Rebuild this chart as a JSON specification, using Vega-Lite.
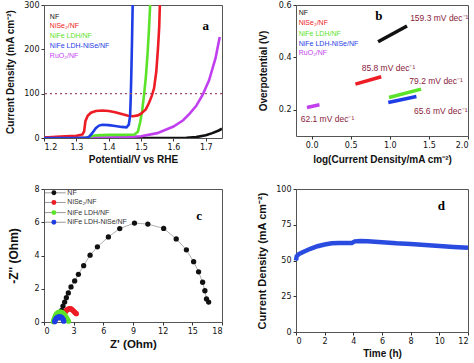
{
  "$schema": "https://vega.github.io/schema/vega-lite/v6.json",
  "padding": {"left": 5, "top": 0, "right": 0, "bottom": 0},
  "background": "white",
  "columns": 2,
  "spacing": {"row": 51, "column": 74},
  "bounds": "flush",
  "datasets": {
    "a": [
      {"s": "NF", "p": 1.2, "j": 0}, {"s": "NF", "p": 1.6, "j": 0}, {"s": "NF", "p": 1.64, "j": 0.5}, {"s": "NF", "p": 1.67, "j": 2}, {"s": "NF", "p": 1.7, "j": 6}, {"s": "NF", "p": 1.72, "j": 11}, {"s": "NF", "p": 1.74, "j": 17}, {"s": "NF", "p": 1.75, "j": 21},
      {"s": "RuO2/NF", "p": 1.2, "j": 0}, {"s": "RuO2/NF", "p": 1.3, "j": 0.3}, {"s": "RuO2/NF", "p": 1.4, "j": 1}, {"s": "RuO2/NF", "p": 1.45, "j": 2}, {"s": "RuO2/NF", "p": 1.5, "j": 4}, {"s": "RuO2/NF", "p": 1.55, "j": 11}, {"s": "RuO2/NF", "p": 1.6, "j": 26}, {"s": "RuO2/NF", "p": 1.63, "j": 40}, {"s": "RuO2/NF", "p": 1.65, "j": 55}, {"s": "RuO2/NF", "p": 1.67, "j": 72}, {"s": "RuO2/NF", "p": 1.69, "j": 97}, {"s": "RuO2/NF", "p": 1.71, "j": 130}, {"s": "RuO2/NF", "p": 1.73, "j": 180}, {"s": "RuO2/NF", "p": 1.743, "j": 228},
      {"s": "NiFe LDH/NF", "p": 1.2, "j": 0}, {"s": "NiFe LDH/NF", "p": 1.33, "j": 0}, {"s": "NiFe LDH/NF", "p": 1.34, "j": 3}, {"s": "NiFe LDH/NF", "p": 1.36, "j": 6}, {"s": "NiFe LDH/NF", "p": 1.4, "j": 7}, {"s": "NiFe LDH/NF", "p": 1.45, "j": 7}, {"s": "NiFe LDH/NF", "p": 1.48, "j": 8}, {"s": "NiFe LDH/NF", "p": 1.49, "j": 14}, {"s": "NiFe LDH/NF", "p": 1.497, "j": 35}, {"s": "NiFe LDH/NF", "p": 1.503, "j": 60}, {"s": "NiFe LDH/NF", "p": 1.509, "j": 96}, {"s": "NiFe LDH/NF", "p": 1.515, "j": 140}, {"s": "NiFe LDH/NF", "p": 1.52, "j": 190}, {"s": "NiFe LDH/NF", "p": 1.524, "j": 240}, {"s": "NiFe LDH/NF", "p": 1.528, "j": 300},
      {"s": "NiSe2/NF", "p": 1.2, "j": 1}, {"s": "NiSe2/NF", "p": 1.25, "j": 3}, {"s": "NiSe2/NF", "p": 1.3, "j": 5}, {"s": "NiSe2/NF", "p": 1.319, "j": 8}, {"s": "NiSe2/NF", "p": 1.324, "j": 15}, {"s": "NiSe2/NF", "p": 1.328, "j": 38}, {"s": "NiSe2/NF", "p": 1.335, "j": 50}, {"s": "NiSe2/NF", "p": 1.345, "j": 57}, {"s": "NiSe2/NF", "p": 1.36, "j": 61}, {"s": "NiSe2/NF", "p": 1.38, "j": 62}, {"s": "NiSe2/NF", "p": 1.4, "j": 61}, {"s": "NiSe2/NF", "p": 1.42, "j": 58}, {"s": "NiSe2/NF", "p": 1.44, "j": 54}, {"s": "NiSe2/NF", "p": 1.46, "j": 50}, {"s": "NiSe2/NF", "p": 1.475, "j": 49}, {"s": "NiSe2/NF", "p": 1.49, "j": 51}, {"s": "NiSe2/NF", "p": 1.5, "j": 55}, {"s": "NiSe2/NF", "p": 1.515, "j": 65}, {"s": "NiSe2/NF", "p": 1.525, "j": 80}, {"s": "NiSe2/NF", "p": 1.533, "j": 95}, {"s": "NiSe2/NF", "p": 1.54, "j": 112}, {"s": "NiSe2/NF", "p": 1.547, "j": 150}, {"s": "NiSe2/NF", "p": 1.552, "j": 200}, {"s": "NiSe2/NF", "p": 1.556, "j": 250}, {"s": "NiSe2/NF", "p": 1.558, "j": 300},
      {"s": "NiFe LDH-NiSe/NF", "p": 1.2, "j": 0}, {"s": "NiFe LDH-NiSe/NF", "p": 1.33, "j": 0}, {"s": "NiFe LDH-NiSe/NF", "p": 1.34, "j": 3}, {"s": "NiFe LDH-NiSe/NF", "p": 1.35, "j": 12}, {"s": "NiFe LDH-NiSe/NF", "p": 1.36, "j": 22}, {"s": "NiFe LDH-NiSe/NF", "p": 1.37, "j": 28}, {"s": "NiFe LDH-NiSe/NF", "p": 1.38, "j": 30}, {"s": "NiFe LDH-NiSe/NF", "p": 1.4, "j": 29}, {"s": "NiFe LDH-NiSe/NF", "p": 1.42, "j": 27}, {"s": "NiFe LDH-NiSe/NF", "p": 1.44, "j": 25}, {"s": "NiFe LDH-NiSe/NF", "p": 1.455, "j": 24}, {"s": "NiFe LDH-NiSe/NF", "p": 1.462, "j": 30}, {"s": "NiFe LDH-NiSe/NF", "p": 1.466, "j": 50}, {"s": "NiFe LDH-NiSe/NF", "p": 1.468, "j": 90}, {"s": "NiFe LDH-NiSe/NF", "p": 1.47, "j": 150}, {"s": "NiFe LDH-NiSe/NF", "p": 1.472, "j": 220}, {"s": "NiFe LDH-NiSe/NF", "p": 1.474, "j": 300}
    ],
    "aleg": [
      {"s": "NF", "label": "NF", "y": 273},
      {"s": "NiSe2/NF", "label": "NiSe₂/NF", "y": 252},
      {"s": "NiFe LDH/NF", "label": "NiFe LDH/NF", "y": 229},
      {"s": "NiFe LDH-NiSe/NF", "label": "NiFe LDH-NiSe/NF", "y": 207},
      {"s": "RuO2/NF", "label": "RuO₂/NF", "y": 185}
    ],
    "b": [
      {"s": "NF", "x": 0.85, "y": 0.46}, {"s": "NF", "x": 1.22, "y": 0.52},
      {"s": "NiSe2/NF", "x": 0.56, "y": 0.298}, {"s": "NiSe2/NF", "x": 0.89, "y": 0.326},
      {"s": "NiFe LDH/NF", "x": 0.99, "y": 0.247}, {"s": "NiFe LDH/NF", "x": 1.4, "y": 0.279},
      {"s": "NiFe LDH-NiSe/NF", "x": 0.98, "y": 0.228}, {"s": "NiFe LDH-NiSe/NF", "x": 1.34, "y": 0.251},
      {"s": "RuO2/NF", "x": -0.06, "y": 0.209}, {"s": "RuO2/NF", "x": 0.1, "y": 0.219}
    ],
    "bleg": [
      {"s": "NF", "label": "NF", "y": 0.568},
      {"s": "NiSe2/NF", "label": "NiSe₂/NF", "y": 0.53},
      {"s": "NiFe LDH/NF", "label": "NiFe LDH/NF", "y": 0.491},
      {"s": "NiFe LDH-NiSe/NF", "label": "NiFe LDH-NiSe/NF", "y": 0.453},
      {"s": "RuO2/NF", "label": "RuO₂/NF", "y": 0.416}
    ],
    "bann": [
      {"t": "159.3 mV dec⁻¹", "x": 1.26, "y": 0.549},
      {"t": "85.8 mV dec⁻¹", "x": 0.64, "y": 0.361},
      {"t": "79.2 mV dec⁻¹", "x": 1.25, "y": 0.31},
      {"t": "65.6 mV dec⁻¹", "x": 1.31, "y": 0.196},
      {"t": "62.1 mV dec⁻¹", "x": -0.14, "y": 0.165}
    ],
    "c": [
      {"s": "NF", "x": 1.55, "y": 0.25}, {"s": "NF", "x": 1.65, "y": 0.5}, {"s": "NF", "x": 1.79, "y": 0.7}, {"s": "NF", "x": 1.92, "y": 0.96}, {"s": "NF", "x": 2.09, "y": 1.2}, {"s": "NF", "x": 2.26, "y": 1.46}, {"s": "NF", "x": 2.46, "y": 1.75}, {"s": "NF", "x": 2.73, "y": 2.11}, {"s": "NF", "x": 3.1, "y": 2.47}, {"s": "NF", "x": 3.48, "y": 2.87}, {"s": "NF", "x": 4.01, "y": 3.39}, {"s": "NF", "x": 4.66, "y": 4.02}, {"s": "NF", "x": 5.4, "y": 4.52}, {"s": "NF", "x": 6.51, "y": 5.12}, {"s": "NF", "x": 7.66, "y": 5.62}, {"s": "NF", "x": 9.15, "y": 5.95}, {"s": "NF", "x": 10.5, "y": 5.89}, {"s": "NF", "x": 12.1, "y": 5.63}, {"s": "NF", "x": 13.37, "y": 5.0}, {"s": "NF", "x": 14.4, "y": 4.34}, {"s": "NF", "x": 15.13, "y": 3.63}, {"s": "NF", "x": 15.63, "y": 3.02}, {"s": "NF", "x": 16.04, "y": 2.39}, {"s": "NF", "x": 16.27, "y": 1.88}, {"s": "NF", "x": 16.43, "y": 1.39}, {"s": "NF", "x": 16.65, "y": 1.2},
      {"s": "NiSe2/NF", "x": 1.95, "y": 0.25}, {"s": "NiSe2/NF", "x": 2.0, "y": 0.38}, {"s": "NiSe2/NF", "x": 2.07, "y": 0.5}, {"s": "NiSe2/NF", "x": 2.15, "y": 0.6}, {"s": "NiSe2/NF", "x": 2.24, "y": 0.68}, {"s": "NiSe2/NF", "x": 2.34, "y": 0.74}, {"s": "NiSe2/NF", "x": 2.45, "y": 0.78}, {"s": "NiSe2/NF", "x": 2.56, "y": 0.8}, {"s": "NiSe2/NF", "x": 2.67, "y": 0.8}, {"s": "NiSe2/NF", "x": 2.78, "y": 0.77}, {"s": "NiSe2/NF", "x": 2.89, "y": 0.72}, {"s": "NiSe2/NF", "x": 2.99, "y": 0.66}, {"s": "NiSe2/NF", "x": 3.09, "y": 0.6}, {"s": "NiSe2/NF", "x": 3.18, "y": 0.55}, {"s": "NiSe2/NF", "x": 3.27, "y": 0.5},
      {"s": "NiFe LDH/NF", "x": 0.95, "y": 0.02}, {"s": "NiFe LDH/NF", "x": 1.0, "y": 0.15}, {"s": "NiFe LDH/NF", "x": 1.08, "y": 0.28}, {"s": "NiFe LDH/NF", "x": 1.17, "y": 0.39}, {"s": "NiFe LDH/NF", "x": 1.27, "y": 0.48}, {"s": "NiFe LDH/NF", "x": 1.38, "y": 0.55}, {"s": "NiFe LDH/NF", "x": 1.5, "y": 0.59}, {"s": "NiFe LDH/NF", "x": 1.62, "y": 0.6}, {"s": "NiFe LDH/NF", "x": 1.75, "y": 0.59}, {"s": "NiFe LDH/NF", "x": 1.88, "y": 0.55}, {"s": "NiFe LDH/NF", "x": 2.0, "y": 0.48}, {"s": "NiFe LDH/NF", "x": 2.12, "y": 0.39}, {"s": "NiFe LDH/NF", "x": 2.22, "y": 0.3}, {"s": "NiFe LDH/NF", "x": 2.32, "y": 0.2}, {"s": "NiFe LDH/NF", "x": 2.4, "y": 0.12}, {"s": "NiFe LDH/NF", "x": 2.47, "y": 0.05},
      {"s": "NiFe LDH-NiSe/NF", "x": 1.08, "y": 0.02}, {"s": "NiFe LDH-NiSe/NF", "x": 1.12, "y": 0.1}, {"s": "NiFe LDH-NiSe/NF", "x": 1.18, "y": 0.17}, {"s": "NiFe LDH-NiSe/NF", "x": 1.26, "y": 0.23}, {"s": "NiFe LDH-NiSe/NF", "x": 1.35, "y": 0.27}, {"s": "NiFe LDH-NiSe/NF", "x": 1.45, "y": 0.3}, {"s": "NiFe LDH-NiSe/NF", "x": 1.55, "y": 0.31}, {"s": "NiFe LDH-NiSe/NF", "x": 1.65, "y": 0.31}, {"s": "NiFe LDH-NiSe/NF", "x": 1.75, "y": 0.29}, {"s": "NiFe LDH-NiSe/NF", "x": 1.83, "y": 0.25}, {"s": "NiFe LDH-NiSe/NF", "x": 1.9, "y": 0.19}, {"s": "NiFe LDH-NiSe/NF", "x": 1.96, "y": 0.12}, {"s": "NiFe LDH-NiSe/NF", "x": 2.0, "y": 0.05}
    ],
    "clegline": [
      {"s": "NF", "x": 0.1, "x2": 2.2, "y": 7.77},
      {"s": "NiSe2/NF", "x": 0.1, "x2": 2.2, "y": 7.19},
      {"s": "NiFe LDH/NF", "x": 0.1, "x2": 2.2, "y": 6.58},
      {"s": "NiFe LDH-NiSe/NF", "x": 0.1, "x2": 2.2, "y": 6.0}
    ],
    "clegdot": [
      {"s": "NF", "x": 1.0, "y": 7.77},
      {"s": "NiSe2/NF", "x": 1.0, "y": 7.19},
      {"s": "NiFe LDH/NF", "x": 1.0, "y": 6.58},
      {"s": "NiFe LDH-NiSe/NF", "x": 1.0, "y": 6.0}
    ],
    "clegtxt": [
      {"label": "NF", "x": 2.36, "y": 7.77},
      {"label": "NiSe₂/NF", "x": 2.36, "y": 7.19},
      {"label": "NiFe LDH/NF", "x": 2.36, "y": 6.58},
      {"label": "NiFe LDH-NiSe/NF", "x": 2.36, "y": 6.0}
    ],
    "d": [
      {"x": 0, "y": 50}, {"x": 0.05, "y": 53}, {"x": 0.2, "y": 54.5}, {"x": 0.5, "y": 56}, {"x": 1.0, "y": 58.2}, {"x": 1.5, "y": 60}, {"x": 2.0, "y": 61.2}, {"x": 2.5, "y": 62}, {"x": 3.0, "y": 62.2}, {"x": 3.5, "y": 62.2}, {"x": 3.9, "y": 62.3}, {"x": 4.1, "y": 63.4}, {"x": 4.5, "y": 63.7}, {"x": 5.0, "y": 63.4}, {"x": 6, "y": 62.8}, {"x": 7, "y": 62}, {"x": 8, "y": 61.5}, {"x": 9, "y": 60.8}, {"x": 10, "y": 60.2}, {"x": 11, "y": 59.5}, {"x": 12, "y": 58.9}
    ]
  },
  "concat": [
    {
      "width": 178, "height": 133,
      "layer": [
        {"data": {"name": "a"}, "mark": {"type": "line", "strokeWidth": 2.6, "clip": true},
         "encoding": {
           "x": {"field": "p", "type": "quantitative", "scale": {"domain": [1.2, 1.75], "nice": false}, "axis": {"values": [1.2, 1.3, 1.4, 1.5, 1.6, 1.7], "format": ".1f", "titlePadding": 3, "labelOverlap": false, "labelBound": false}, "title": "Potential/V vs RHE"},
           "y": {"field": "j", "type": "quantitative", "scale": {"domain": [0, 300], "nice": false}, "axis": {"values": [0, 100, 200, 300], "titlePadding": 8, "labelOverlap": false, "labelBound": false}, "title": "Current Density (mA cm⁻²)"},
           "color": {"field": "s", "type": "nominal", "scale": {"domain": ["NF", "NiSe2/NF", "NiFe LDH/NF", "NiFe LDH-NiSe/NF", "RuO2/NF"], "range": ["#111111", "#ee1c25", "#5be32a", "#1f3de6", "#c23ff0"]}, "legend": null}
         }},
        {"data": {"values": [{}]}, "mark": {"type": "rule", "strokeDash": [2, 3], "color": "#a0506a", "strokeWidth": 1.2},
         "encoding": {"y": {"datum": 100, "type": "quantitative", "scale": {"domain": [0, 300], "nice": false}, "axis": {"values": [0, 100, 200, 300], "titlePadding": 8, "labelOverlap": false, "labelBound": false}, "title": "Current Density (mA cm⁻²)"}}},
        {"data": {"name": "aleg"}, "mark": {"type": "text", "align": "left", "baseline": "middle", "font": "Liberation Sans", "fontSize": 7},
         "encoding": {
           "x": {"datum": 1.218, "type": "quantitative", "scale": {"domain": [1.2, 1.75], "nice": false}, "axis": {"values": [1.2, 1.3, 1.4, 1.5, 1.6, 1.7], "format": ".1f", "titlePadding": 3, "labelOverlap": false, "labelBound": false}, "title": "Potential/V vs RHE"},
           "y": {"field": "y", "type": "quantitative", "scale": {"domain": [0, 300], "nice": false}, "axis": {"values": [0, 100, 200, 300], "titlePadding": 8, "labelOverlap": false, "labelBound": false}, "title": "Current Density (mA cm⁻²)"},
           "text": {"field": "label"},
           "color": {"field": "s", "type": "nominal", "scale": {"domain": ["NF", "NiSe2/NF", "NiFe LDH/NF", "NiFe LDH-NiSe/NF", "RuO2/NF"], "range": ["#111111", "#ee1c25", "#5be32a", "#1f3de6", "#c23ff0"]}, "legend": null}}},
        {"data": {"values": [{"t": "a", "x": 1.7, "y": 253}]}, "mark": {"type": "text", "font": "Liberation Serif", "fontWeight": "bold", "fontSize": 13, "baseline": "middle"},
         "encoding": {
           "x": {"field": "x", "type": "quantitative", "scale": {"domain": [1.2, 1.75], "nice": false}, "axis": {"values": [1.2, 1.3, 1.4, 1.5, 1.6, 1.7], "format": ".1f", "titlePadding": 3, "labelOverlap": false, "labelBound": false}, "title": "Potential/V vs RHE"},
           "y": {"field": "y", "type": "quantitative", "scale": {"domain": [0, 300], "nice": false}, "axis": {"values": [0, 100, 200, 300], "titlePadding": 8, "labelOverlap": false, "labelBound": false}, "title": "Current Density (mA cm⁻²)"},
           "text": {"field": "t"}}}
      ]
    },
    {
      "width": 172, "height": 131,
      "layer": [
        {"data": {"name": "b"}, "mark": {"type": "line", "strokeWidth": 3.5},
         "encoding": {
           "x": {"field": "x", "type": "quantitative", "scale": {"domain": [-0.2, 2.0], "nice": false}, "axis": {"values": [0, 0.5, 1, 1.5, 2], "format": ".1f", "titlePadding": 5, "labelOverlap": false, "labelBound": false}, "title": "log(Current Density/mA cm⁻²)"},
           "y": {"field": "y", "type": "quantitative", "scale": {"domain": [0.1, 0.6], "nice": false}, "axis": {"values": [0.2, 0.4, 0.6], "format": ".1f", "titlePadding": 10, "labelOverlap": false, "labelBound": false}, "title": "Overpotential (V)"},
           "color": {"field": "s", "type": "nominal", "scale": {"domain": ["NF", "NiSe2/NF", "NiFe LDH/NF", "NiFe LDH-NiSe/NF", "RuO2/NF"], "range": ["#111111", "#ee1c25", "#5be32a", "#1f3de6", "#c23ff0"]}, "legend": null}
         }},
        {"data": {"name": "bleg"}, "mark": {"type": "text", "align": "left", "baseline": "middle", "font": "Liberation Sans", "fontSize": 7},
         "encoding": {
           "x": {"datum": -0.165, "type": "quantitative", "scale": {"domain": [-0.2, 2.0], "nice": false}, "axis": {"values": [0, 0.5, 1, 1.5, 2], "format": ".1f", "titlePadding": 5, "labelOverlap": false, "labelBound": false}, "title": "log(Current Density/mA cm⁻²)"},
           "y": {"field": "y", "type": "quantitative", "scale": {"domain": [0.1, 0.6], "nice": false}, "axis": {"values": [0.2, 0.4, 0.6], "format": ".1f", "titlePadding": 10, "labelOverlap": false, "labelBound": false}, "title": "Overpotential (V)"},
           "text": {"field": "label"},
           "color": {"field": "s", "type": "nominal", "scale": {"domain": ["NF", "NiSe2/NF", "NiFe LDH/NF", "NiFe LDH-NiSe/NF", "RuO2/NF"], "range": ["#111111", "#ee1c25", "#5be32a", "#1f3de6", "#c23ff0"]}, "legend": null}}},
        {"data": {"name": "bann"}, "mark": {"type": "text", "align": "left", "baseline": "middle", "font": "Liberation Sans", "fontSize": 8.5, "color": "#8b1c3c"},
         "encoding": {
           "x": {"field": "x", "type": "quantitative", "scale": {"domain": [-0.2, 2.0], "nice": false}, "axis": {"values": [0, 0.5, 1, 1.5, 2], "format": ".1f", "titlePadding": 5, "labelOverlap": false, "labelBound": false}, "title": "log(Current Density/mA cm⁻²)"},
           "y": {"field": "y", "type": "quantitative", "scale": {"domain": [0.1, 0.6], "nice": false}, "axis": {"values": [0.2, 0.4, 0.6], "format": ".1f", "titlePadding": 10, "labelOverlap": false, "labelBound": false}, "title": "Overpotential (V)"},
           "text": {"field": "t"}}},
        {"data": {"values": [{"t": "b", "x": 0.86, "y": 0.558}]}, "mark": {"type": "text", "font": "Liberation Serif", "fontWeight": "bold", "fontSize": 13, "baseline": "middle"},
         "encoding": {
           "x": {"field": "x", "type": "quantitative", "scale": {"domain": [-0.2, 2.0], "nice": false}, "axis": {"values": [0, 0.5, 1, 1.5, 2], "format": ".1f", "titlePadding": 5, "labelOverlap": false, "labelBound": false}, "title": "log(Current Density/mA cm⁻²)"},
           "y": {"field": "y", "type": "quantitative", "scale": {"domain": [0.1, 0.6], "nice": false}, "axis": {"values": [0.2, 0.4, 0.6], "format": ".1f", "titlePadding": 10, "labelOverlap": false, "labelBound": false}, "title": "Overpotential (V)"},
           "text": {"field": "t"}}}
      ]
    },
    {
      "width": 178, "height": 133,
      "encoding": {
        "x": {"field": "x", "type": "quantitative", "scale": {"domain": [0, 18], "nice": false}, "axis": {"values": [0, 3, 6, 9, 12, 15, 18], "titlePadding": 3, "titleFontSize": 11.5, "labelOverlap": false, "labelBound": false}, "title": "Z' (Ohm)"},
        "y": {"field": "y", "type": "quantitative", "scale": {"domain": [0, 8], "nice": false}, "axis": {"values": [0, 2, 4, 6, 8], "titlePadding": 13, "titleFontSize": 12, "labelOverlap": false, "labelBound": false}, "title": "-Z'' (Ohm)"}
      },
      "layer": [
        {"data": {"name": "c"}, "transform": [{"filter": "datum.s === 'NF'"}], "mark": {"type": "line", "strokeWidth": 0.8, "color": "#999999"}},
        {"data": {"name": "c"}, "transform": [{"filter": "datum.s !== 'NF'"}], "mark": {"type": "line", "strokeWidth": 3.2},
         "encoding": {
           "color": {"field": "s", "type": "nominal", "scale": {"domain": ["NF", "NiSe2/NF", "NiFe LDH/NF", "NiFe LDH-NiSe/NF", "RuO2/NF"], "range": ["#111111", "#ee1c25", "#5be32a", "#1f3de6", "#c23ff0"]}, "legend": null}}},
        {"data": {"name": "c"}, "mark": {"type": "point", "filled": true, "size": 28, "opacity": 1},
         "encoding": {
           "color": {"field": "s", "type": "nominal", "scale": {"domain": ["NF", "NiSe2/NF", "NiFe LDH/NF", "NiFe LDH-NiSe/NF", "RuO2/NF"], "range": ["#111111", "#ee1c25", "#5be32a", "#1f3de6", "#c23ff0"]}, "legend": null}}},
        {"data": {"name": "clegline"}, "mark": {"type": "rule", "color": "#999999", "strokeWidth": 1},
         "encoding": {"x2": {"field": "x2"}}},
        {"data": {"name": "clegdot"}, "mark": {"type": "point", "filled": true, "size": 24, "opacity": 1},
         "encoding": {
           "color": {"field": "s", "type": "nominal", "scale": {"domain": ["NF", "NiSe2/NF", "NiFe LDH/NF", "NiFe LDH-NiSe/NF", "RuO2/NF"], "range": ["#111111", "#ee1c25", "#5be32a", "#1f3de6", "#c23ff0"]}, "legend": null}}},
        {"data": {"name": "clegtxt"}, "mark": {"type": "text", "align": "left", "baseline": "middle", "font": "Liberation Sans", "fontSize": 7, "color": "#333333"},
         "encoding": {"text": {"field": "label"}}},
        {"data": {"values": [{"t": "c", "x": 15.7, "y": 6.37}]}, "mark": {"type": "text", "font": "Liberation Serif", "fontWeight": "bold", "fontSize": 13, "baseline": "middle"},
         "encoding": {"text": {"field": "t"}}}
      ]
    },
    {
      "width": 172, "height": 143,
      "encoding": {
        "x": {"field": "x", "type": "quantitative", "scale": {"domain": [0, 12], "nice": false}, "axis": {"values": [0, 2, 4, 6, 8, 10, 12], "titlePadding": 3, "labelOverlap": false, "labelBound": false}, "title": "Time (h)"},
        "y": {"field": "y", "type": "quantitative", "scale": {"domain": [0, 100], "nice": false}, "axis": {"values": [0, 25, 50, 75, 100], "titlePadding": 8, "titleFontSize": 11, "labelOverlap": false, "labelBound": false}, "title": "Current Density (mA cm⁻²)"}
      },
      "layer": [
        {"data": {"name": "d"}, "mark": {"type": "line", "strokeWidth": 4.5, "color": "#2a4be0"}},
        {"data": {"values": [{"t": "d", "x": 10.14, "y": 88}]}, "mark": {"type": "text", "font": "Liberation Serif", "fontWeight": "bold", "fontSize": 13, "baseline": "middle"},
         "encoding": {"text": {"field": "t"}}}
      ]
    }
  ],
  "config": {
    "view": {"stroke": "#555555", "strokeWidth": 1},
    "axis": {"grid": false, "domain": false, "labelOverlap": false, "tickColor": "#333333", "tickSize": 3, "labelFont": "DejaVu Sans", "labelFontSize": 8, "labelColor": "#111111", "labelPadding": 2, "titleFont": "Liberation Sans", "titleFontSize": 10, "titleFontWeight": "bold", "titleColor": "#111111"}
  }
}
